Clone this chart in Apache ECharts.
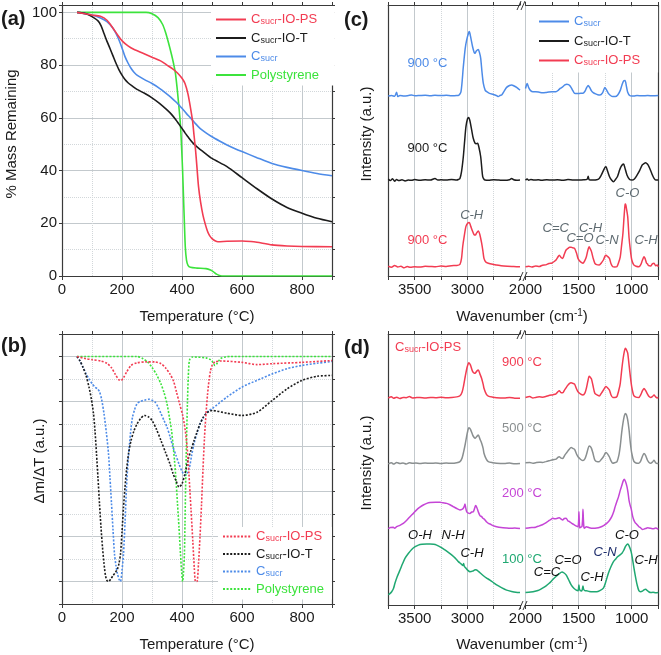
<!DOCTYPE html>
<html><head><meta charset="utf-8">
<script src="https://cdn.jsdelivr.net/npm/echarts@6/dist/echarts.min.js"></script>
<style>html,body{margin:0;padding:0;background:#fff}#c{width:661px;height:655px}</style>
</head><body><div id="c"></div>
<script>
// ---------------- DATA ----------------
// (a) TGA: [temperature °C, % mass remaining]
const aRed = [[50,100],[100,99],[128,98.5],[150,97],[170,94],[185,91.5],[202,89],[220,87.3],[239,86],[270,84.5],[300,83],[330,81.5],[350,80],[370,78.5],[385,77],[400,75],[410,73],[420,69],[428,64],[435,59],[440,53.5],[445,48],[450,41],[455,34],[462,28],[470,23],[478,19.5],[485,17],[492,15.3],[500,14.2],[510,13.4],[520,13],[550,13.2],[600,13.3],[630,13.1],[650,12.8],[700,11.8],[750,11.4],[800,11.2],[900,11.1]];
const aBlack = [[50,100],[80,99.5],[100,98.4],[120,96.8],[130,95],[140,92],[150,89],[160,86.3],[170,83.5],[180,80.7],[190,78.2],[200,76.2],[210,74.5],[220,73.3],[235,72],[250,70.8],[275,69.3],[300,67.6],[325,65.5],[350,63],[365,61.3],[380,59.2],[390,57.6],[400,56],[410,54.3],[420,52.8],[430,51.3],[440,50],[455,48.5],[470,47.2],[500,44.6],[550,41.5],[600,37.3],[650,33.1],[700,29.2],[750,26],[800,23.8],[850,21.9],[900,20.6]];
const aBlue = [[50,100],[100,99],[130,97.8],[150,96.5],[170,94],[180,92],[190,89.5],[200,86.5],[210,83.2],[220,80.8],[230,78.8],[240,77.3],[250,76.2],[275,74.5],[300,73],[325,71.2],[350,69],[365,67.6],[380,66],[390,64.8],[400,63.6],[415,61.6],[430,59.8],[445,57.8],[460,56],[480,54.3],[500,52.8],[525,51.2],[550,49.7],[575,48.4],[600,47.2],[650,44.9],[700,42.7],[750,41.2],[800,40],[850,38.9],[900,38]];
const aGreen = [[50,100],[280,100],[300,99.5],[320,98],[335,95.5],[345,92.5],[355,88.5],[365,84],[372,80.5],[378,77],[384,71],[389,65],[393,60],[396,55],[399,48],[402,40],[405,30],[408,20],[411,11],[415,6],[420,4],[428,3.3],[450,3],[480,2.8],[495,2.3],[505,1.6],[515,0.7],[525,0.2],[540,0],[900,0]];

// (b) DTG: [temperature °C, Δm/ΔT (a.u.)]
const bRed = [[50,0],[80,-0.05],[100,-0.07],[130,-0.1],[150,-0.15],[165,-0.25],[178,-0.4],[190,-0.52],[197,-0.53],[205,-0.47],[215,-0.35],[230,-0.2],[250,-0.14],[280,-0.12],[310,-0.12],[330,-0.16],[345,-0.25],[360,-0.39],[372,-0.55],[382,-0.8],[392,-1.05],[402,-1.3],[410,-1.6],[417,-2.0],[423,-2.6],[430,-3.4],[436,-4.1],[441,-4.7],[445,-5.0],[450,-5.0],[455,-4.6],[460,-4.0],[465,-3.3],[470,-2.5],[475,-1.8],[480,-1.27],[485,-0.85],[490,-0.53],[495,-0.32],[500,-0.2],[510,-0.12],[530,-0.1],[600,-0.13],[650,-0.18],[700,-0.16],[800,-0.13],[900,-0.09]];
const bBlack = [[50,0],[60,-0.1],[70,-0.24],[80,-0.42],[90,-0.68],[98,-0.95],[105,-1.27],[110,-1.65],[115,-2.16],[120,-2.7],[125,-3.27],[130,-3.8],[135,-4.24],[140,-4.6],[145,-4.87],[150,-4.98],[155,-5.0],[162,-4.95],[170,-4.87],[178,-4.8],[185,-4.72],[190,-4.6],[195,-4.39],[200,-3.9],[205,-3.35],[210,-2.9],[215,-2.53],[222,-2.15],[230,-1.87],[240,-1.65],[250,-1.5],[262,-1.38],[275,-1.31],[288,-1.34],[300,-1.42],[315,-1.62],[330,-1.87],[345,-2.13],[360,-2.39],[370,-2.6],[380,-2.76],[390,-2.9],[400,-2.83],[410,-2.6],[420,-2.3],[430,-2.08],[440,-1.87],[450,-1.68],[460,-1.5],[470,-1.36],[480,-1.27],[490,-1.22],[500,-1.2],[550,-1.26],[600,-1.31],[650,-1.24],[700,-0.98],[750,-0.72],[800,-0.53],[850,-0.44],[900,-0.42]];
const bBlue = [[50,0],[60,-0.1],[70,-0.24],[80,-0.38],[90,-0.5],[100,-0.6],[110,-0.68],[118,-0.72],[125,-0.78],[132,-0.95],[140,-1.27],[148,-1.7],[155,-2.16],[160,-2.7],[165,-3.27],[170,-3.85],[175,-4.39],[180,-4.65],[185,-4.83],[190,-4.95],[195,-5.0],[200,-4.75],[205,-4.39],[210,-3.7],[215,-2.9],[220,-2.35],[225,-1.94],[230,-1.6],[235,-1.35],[242,-1.18],[250,-1.05],[260,-1.0],[270,-0.98],[280,-0.96],[290,-0.95],[300,-0.97],[310,-1.01],[320,-1.12],[330,-1.27],[340,-1.42],[350,-1.57],[360,-1.78],[370,-2.01],[380,-2.2],[390,-2.39],[400,-2.55],[410,-2.64],[418,-2.58],[425,-2.46],[432,-2.2],[440,-1.94],[450,-1.7],[460,-1.5],[470,-1.37],[480,-1.27],[490,-1.2],[500,-1.16],[550,-0.9],[600,-0.68],[650,-0.53],[700,-0.39],[750,-0.27],[800,-0.2],[850,-0.15],[900,-0.11]];
const bGreen = [[50,0],[250,0],[270,-0.05],[285,-0.12],[300,-0.24],[315,-0.4],[330,-0.61],[340,-0.8],[350,-1.05],[358,-1.35],[365,-1.64],[370,-1.95],[375,-2.31],[380,-2.75],[385,-3.27],[390,-3.8],[395,-4.39],[399,-4.8],[402,-5.0],[405,-4.8],[408,-4.39],[410,-3.7],[412,-2.9],[415,-1.9],[418,-1.05],[421,-0.45],[425,-0.08],[435,-0.01],[480,-0.03],[495,-0.07],[503,-0.13],[510,-0.2],[515,-0.17],[522,-0.1],[530,-0.04],[545,-0.01],[560,0],[900,0]];

// (c) IR spectra at 900 °C: [wavenumber cm-1, intensity (a.u., offset)]; L = 3750-2500, R = 2000-750
const cBlueL = [[3750,66.4],[3720,66.6],[3690,66.3],[3671,67.8],[3660,66.2],[3639,66.6],[3600,66.4],[3560,66.6],[3530,66.8],[3497,66.5],[3450,66.6],[3400,66.7],[3350,66.5],[3307,66.7],[3250,66.6],[3200,66.7],[3150,66.5],[3100,66.6],[3085,66.6],[3060,68],[3038,77.2],[3020,84],[3006,87.1],[2990,89.5],[2981,90.2],[2970,88.5],[2950,84.6],[2935,82.5],[2927,82.2],[2915,83],[2896,83.6],[2885,82.5],[2873,80.3],[2860,75],[2848,71.1],[2830,68.5],[2816,68],[2790,67.4],[2753,67],[2720,66.5],[2706,66.2],[2690,66.6],[2674,66.8],[2650,68.2],[2627,69.6],[2600,70.3],[2579,70.5],[2555,70.1],[2532,69.6],[2510,68.9],[2500,68.6]];
const cBlueR = [[2000,69.2],[1990,70.6],[1984,71.0],[1970,69.5],[1952,68.4],[1930,68.0],[1904,68.0],[1870,67.8],[1840,67.6],[1809,67.7],[1780,67.9],[1750,68.0],[1713,68.0],[1690,68.6],[1670,69.3],[1650,69.8],[1630,70.5],[1611,70.8],[1595,70.6],[1580,70.1],[1560,68.8],[1538,67.4],[1510,67.3],[1480,67.4],[1459,67.4],[1440,68.2],[1427,69.3],[1411,70.3],[1395,69.5],[1379,68.3],[1363,67.7],[1340,67.2],[1320,66.9],[1299,66.8],[1275,67.6],[1252,69.6],[1235,68.5],[1220,67.4],[1200,66.6],[1178,66.2],[1156,66.2],[1130,66.9],[1108,68.5],[1092,70.5],[1076,72.0],[1063,72.1],[1050,70],[1038,67.8],[1020,66.6],[997,66.4],[981,66.4],[950,66.6],[900,66.5],[850,66.6],[800,66.5],[750,66.6]];
const cBlackL = [[3750,35.8],[3730,35.2],[3710,35.9],[3690,35.0],[3671,35.6],[3650,35.2],[3620,35.5],[3590,35.1],[3560,35.4],[3530,35.3],[3500,35.6],[3450,35.3],[3400,35.5],[3350,35.4],[3307,36.0],[3280,35.4],[3250,35.5],[3200,35.4],[3150,35.6],[3100,35.4],[3085,35.6],[3070,36.0],[3055,38.5],[3038,44.0],[3025,50],[3013,55.1],[2998,58.0],[2987,58.5],[2975,57.2],[2959,53.9],[2945,51],[2927,49.0],[2915,48.8],[2902,49.0],[2890,47.5],[2873,44.0],[2862,39.5],[2854,36.7],[2840,35.6],[2832,35.4],[2800,35.3],[2750,35.5],[2700,35.4],[2650,35.3],[2600,35.5],[2579,36.0],[2560,35.5],[2530,35.3],[2500,35.4]];
const cBlackR = [[2000,35.4],[1984,35.8],[1970,35.3],[1950,35.6],[1920,35.4],[1880,35.5],[1850,35.3],[1800,35.5],[1750,35.4],[1700,35.5],[1650,35.3],[1600,35.6],[1550,35.4],[1500,35.4],[1450,35.5],[1420,35.7],[1410,36.8],[1400,35.5],[1360,35.4],[1331,35.5],[1306,36.0],[1290,37.0],[1267,38.9],[1250,40.2],[1242,40.3],[1230,39.0],[1210,36.7],[1190,35.4],[1172,34.8],[1155,35.5],[1134,36.7],[1115,39.0],[1102,40.3],[1085,41.2],[1076,41.3],[1065,40.0],[1045,37.3],[1020,35.6],[997,35.4],[975,35.8],[949,37.3],[925,39.0],[901,41.0],[885,41.5],[869,41.8],[853,41.3],[837,40.3],[822,38.9],[806,37.3],[790,36.0],[774,35.4],[750,35.4]];
const cRedL = [[3750,3.6],[3720,3.2],[3690,3.9],[3660,3.3],[3630,3.6],[3600,3.0],[3570,3.5],[3540,3.2],[3500,3.4],[3450,3.3],[3400,3.6],[3350,3.5],[3300,3.4],[3250,3.7],[3200,3.5],[3150,3.8],[3100,3.9],[3070,4.3],[3055,6.5],[3044,10.8],[3030,14.5],[3013,18.3],[2995,19.6],[2981,19.7],[2968,18.4],[2949,16.4],[2935,15.2],[2924,15.1],[2910,16.0],[2896,16.6],[2882,15.4],[2864,12.1],[2852,9.2],[2842,6.5],[2825,5.2],[2801,4.7],[2760,4.3],[2722,4.1],[2680,3.8],[2620,3.6],[2560,3.5],[2500,3.4]];
const cRedR = [[2000,3.4],[1970,3.6],[1940,3.3],[1904,3.7],[1870,3.5],[1840,4.0],[1809,4.1],[1780,4.6],[1750,4.8],[1725,5.5],[1713,5.9],[1695,7.0],[1682,7.7],[1665,6.8],[1650,6.5],[1635,8.0],[1618,9.6],[1600,10.2],[1585,10.6],[1570,10.6],[1555,10.4],[1538,10.2],[1520,8.5],[1506,6.5],[1490,5.5],[1475,5.0],[1459,4.7],[1443,5.6],[1427,7.1],[1413,9.5],[1401,10.8],[1390,10.0],[1379,9.0],[1363,6.5],[1347,4.7],[1330,4.2],[1306,4.1],[1285,4.9],[1267,5.9],[1252,7.3],[1242,7.7],[1230,7.3],[1210,6.5],[1195,4.5],[1178,3.4],[1160,3.3],[1140,3.4],[1125,4.8],[1108,7.1],[1095,11.5],[1083,15.7],[1072,22],[1063,26.3],[1058,26.6],[1050,25],[1038,21.9],[1025,14],[1013,9.6],[1000,6],[981,4.1],[960,3.6],[933,3.4],[915,4.2],[900,5.8],[885,7.1],[875,6.5],[860,4.7],[853,4.5],[840,3.8],[822,3.7],[806,4.5],[790,4.7],[775,3.8],[760,4.1],[750,3.4]];

// (d) IR spectra of Csucr-IO-PS at 900/500/200/100 °C
const dRedL = [[3750,76.4],[3720,76.8],[3700,76.3],[3670,76.7],[3640,76.2],[3610,76.6],[3580,76.5],[3550,76.9],[3520,76.4],[3490,76.5],[3450,76.6],[3400,76.4],[3350,76.6],[3300,76.5],[3250,76.7],[3200,76.5],[3150,76.6],[3100,76.8],[3070,77.2],[3050,78.5],[3035,81],[3019,84.5],[3000,88.0],[2985,89.4],[2970,88.5],[2949,86.1],[2935,85.6],[2927,85.5],[2910,86.3],[2896,86.7],[2880,85.2],[2864,83.6],[2850,81.5],[2842,80.0],[2820,77.8],[2801,77.1],[2760,76.7],[2722,76.5],[2650,76.4],[2600,76.6],[2550,76.3],[2500,76.3]];
const dRedR = [[2000,76.6],[1960,76.9],[1930,76.4],[1904,76.6],[1870,76.8],[1840,76.7],[1809,76.9],[1780,77.3],[1740,77.6],[1713,77.9],[1695,78.7],[1682,79.1],[1665,78.3],[1650,78.3],[1630,79.5],[1611,80.6],[1590,81.6],[1570,82.0],[1555,81.8],[1538,81.5],[1520,79.8],[1506,78.7],[1480,77.8],[1459,77.5],[1440,78.3],[1427,80.0],[1412,82.8],[1401,84.4],[1390,84.0],[1379,83.4],[1365,81],[1347,78.1],[1320,77.4],[1306,77.1],[1285,78.2],[1267,79.3],[1250,80.4],[1242,80.6],[1225,80.0],[1210,79.3],[1195,77.5],[1178,76.6],[1160,76.6],[1140,76.9],[1120,79.5],[1108,81.8],[1095,86.5],[1083,90.4],[1070,93.5],[1060,94.7],[1050,94.2],[1038,92.9],[1025,88.5],[1013,84.3],[1000,80.5],[981,77.3],[960,76.7],[933,76.6],[915,77.6],[900,79.0],[885,79.9],[870,79.2],[853,77.9],[837,76.9],[822,76.6],[806,76.9],[790,77.5],[775,76.8],[760,76.4],[750,76.6]];
const dGrayL = [[3750,52.1],[3720,52.5],[3700,52.0],[3670,52.6],[3640,52.2],[3610,52.4],[3580,52.0],[3550,52.5],[3520,52.3],[3490,52.4],[3450,52.2],[3400,52.4],[3350,52.3],[3300,52.4],[3250,52.2],[3200,52.4],[3150,52.3],[3100,52.5],[3070,52.9],[3050,54.2],[3035,56.5],[3019,59.5],[3000,63.5],[2985,65.4],[2970,64.8],[2949,62.7],[2935,61.8],[2927,61.5],[2910,62.2],[2896,62.7],[2880,61.2],[2864,59.7],[2850,57.8],[2842,56.0],[2820,53.8],[2801,52.9],[2760,52.5],[2722,52.3],[2650,52.2],[2600,52.4],[2550,52.1],[2500,52.2]];
const dGrayR = [[2000,52.5],[1960,52.6],[1930,52.3],[1904,52.5],[1870,52.7],[1840,52.6],[1809,52.9],[1780,53.2],[1740,53.6],[1713,53.8],[1695,54.5],[1682,54.7],[1665,54.2],[1650,54.1],[1630,55.3],[1611,56.3],[1590,57.4],[1570,58.1],[1555,57.8],[1538,57.4],[1520,55.7],[1506,54.7],[1480,53.7],[1459,53.3],[1440,54.0],[1427,55.4],[1412,57.6],[1401,58.7],[1390,58.5],[1379,57.8],[1365,56],[1347,53.5],[1320,52.9],[1306,52.9],[1285,53.8],[1267,54.7],[1250,56.0],[1242,56.3],[1225,55.6],[1210,54.6],[1195,53.2],[1178,52.3],[1160,52.5],[1140,52.8],[1120,55.5],[1108,58.7],[1095,63.5],[1083,67.0],[1070,69.8],[1060,70.7],[1050,70.2],[1038,68.3],[1025,64.5],[1013,59.7],[1000,56.0],[981,53.1],[960,52.4],[933,52.3],[915,53.2],[900,54.8],[885,55.9],[870,55.2],[853,53.5],[837,52.6],[822,52.3],[806,52.7],[790,53.4],[775,52.5],[760,52.2],[750,52.3]];
const dMagL = [[3750,28.2],[3730,28.6],[3703,28.7],[3690,28.3],[3671,28.9],[3640,29.4],[3608,30.1],[3575,31.3],[3544,32.6],[3510,33.9],[3481,35.1],[3450,36.1],[3418,36.9],[3385,37.5],[3354,37.8],[3300,37.9],[3260,37.9],[3230,37.7],[3196,37.5],[3165,37.0],[3133,36.3],[3100,35.6],[3070,35.1],[3050,35.3],[3038,35.7],[3028,36.5],[3022,37.3],[3015,35.8],[3006,34.4],[2990,33.9],[2975,33.8],[2958,34.3],[2943,34.4],[2930,35.8],[2921,36.7],[2910,36.0],[2896,34.4],[2880,33.0],[2864,32.6],[2852,32.0],[2842,31.8],[2830,31.3],[2816,30.6],[2800,30.1],[2785,29.9],[2750,29.2],[2722,28.9],[2680,28.6],[2630,28.4],[2595,28.3],[2550,28.4],[2500,28.2]];
const dMagR = [[2000,28.3],[1960,28.5],[1930,28.6],[1904,28.7],[1870,29.2],[1841,29.6],[1809,30.3],[1777,31.2],[1760,31.6],[1745,32.0],[1725,31.8],[1700,32.0],[1682,32.2],[1665,31.7],[1650,31.4],[1635,31.9],[1618,32.0],[1600,31.0],[1586,30.8],[1560,30.0],[1538,29.5],[1520,29.1],[1506,28.9],[1500,31],[1497,34.4],[1494,31],[1490,28.5],[1484,28.4],[1475,28.8],[1468,29.0],[1462,32],[1459,35.3],[1455,31.5],[1450,28.6],[1446,28.3],[1427,28.9],[1400,28.5],[1363,28.3],[1330,28.4],[1299,28.7],[1265,29.3],[1236,30.1],[1210,31.2],[1188,32.6],[1170,34.4],[1156,36.3],[1140,38.2],[1124,40.0],[1108,42.3],[1092,44.3],[1080,45.8],[1070,46.4],[1058,45.5],[1045,43.7],[1035,41.5],[1025,38.5],[1013,36.5],[1005,35.5],[997,33.8],[990,32.5],[981,31.4],[968,30.4],[955,29.9],[933,28.9],[915,28.4],[901,27.9],[885,28.0],[869,28.2],[850,28.5],[822,28.3],[800,28.1],[775,28.4],[750,27.9]];
const dGreenL = [[3750,3.8],[3735,4.2],[3718,4.9],[3700,6.2],[3687,8.0],[3665,10.5],[3639,12.9],[3615,15.2],[3592,17.2],[3560,19.0],[3528,20.5],[3495,21.5],[3465,22.1],[3430,22.4],[3386,22.5],[3354,22.5],[3320,22.4],[3291,22.1],[3250,21.3],[3212,20.3],[3180,19.4],[3149,18.5],[3115,17.3],[3085,16.0],[3060,15.2],[3041,14.6],[3035,15.3],[3028,14.2],[3013,13.6],[2995,12.8],[2975,12.3],[2950,12.5],[2925,13.0],[2911,12.9],[2895,12.4],[2880,11.9],[2850,10.9],[2820,10.0],[2785,9.2],[2750,8.2],[2722,7.4],[2680,6.5],[2627,5.5],[2580,5.0],[2540,4.7],[2500,4.6]];
const dGreenR = [[2000,4.6],[1950,4.8],[1900,5.2],[1873,5.5],[1840,6.2],[1809,7.0],[1777,8.0],[1745,9.3],[1713,10.5],[1685,11.5],[1656,12.2],[1640,11.9],[1618,11.1],[1595,9.4],[1570,7.4],[1545,6.2],[1522,5.5],[1505,5.3],[1500,6.5],[1497,7.4],[1493,6.0],[1484,5.3],[1470,5.2],[1463,6.2],[1459,7.0],[1453,5.8],[1440,5.3],[1427,5.3],[1400,5.0],[1365,4.9],[1331,4.9],[1300,5.3],[1267,6.2],[1245,8.5],[1220,11.7],[1195,14.2],[1172,16.0],[1150,17.0],[1134,17.8],[1110,18.5],[1092,19.1],[1075,20.2],[1060,21.5],[1045,22.3],[1038,22.5],[1025,21.8],[1006,19.7],[995,17.5],[981,14.1],[965,10.5],[949,7.4],[933,5.3],[917,4.9],[900,5.1],[885,5.6],[869,5.8],[853,5.3],[837,4.8],[822,4.6],[800,4.7],[775,4.5],[750,4.6]];

// tick labels
const tempTicks = [0, 200, 400, 600, 800];
const massTicks = [0, 20, 40, 60, 80, 100];
const wnTicksL = [3500, 3000];
const wnTicksR = [2000, 1500, 1000];

// ---------------- STYLE ----------------
const FONT = '"Liberation Sans", Arial, Helvetica, sans-serif';
const C_RED = '#F23C52', C_BLACK = '#1c1c1c', C_BLUE = '#4D8BE8', C_GREEN = '#3CE33C';
const C_GRAY = '#8A8F90', C_MAG = '#C545D6', C_TEAL = '#20A872';
const MAJ = '#C3C9CD', MIN = '#D2D7DA', AXIS = '#3a3a3a', TXT = '#1a1a1a', ANN = '#5E6A70';
const T = 'transparent';

function hasTick(list, v) { return list.some(t => Math.abs(t - v) < 1e-6); }

function xAx(grid, pos, min, max, interval, inverse, labels, colors, dotted) {
  return {
    type: 'value', gridIndex: grid, position: pos, min, max, interval, inverse: !!inverse,
    axisLine: { show: true, onZero: false, lineStyle: { color: AXIS, width: 1.2 } },
    axisTick: { show: true, inside: false, length: pos === 'bottom' ? 4 : 3, lineStyle: { color: AXIS, width: 1 } },
    axisLabel: labels ? { show: true, margin: 6, fontSize: 15, color: TXT, fontFamily: FONT,
      showMinLabel: true, showMaxLabel: true, formatter: v => hasTick(labels, v) ? String(v) : '' } : { show: false },
    splitLine: { show: !!colors, lineStyle: { color: colors || MAJ, width: 1, type: dotted ? 'dotted' : 'solid' } },
    minorTick: { show: false }, minorSplitLine: { show: false }
  };
}
function yAx(grid, pos, min, max, interval, labels, colors, dotted, ticks) {
  return {
    type: 'value', gridIndex: grid, position: pos, min, max, interval,
    axisLine: { show: true, onZero: false, lineStyle: { color: AXIS, width: 1.2 } },
    axisTick: { show: !!ticks, inside: false, length: 3, lineStyle: { color: AXIS, width: 1 } },
    axisLabel: labels ? { show: true, margin: 5, fontSize: 15, color: TXT, fontFamily: FONT,
      showMinLabel: true, showMaxLabel: true, formatter: v => hasTick(labels, v) ? String(v) : '' } : { show: false },
    splitLine: { show: !!colors, lineStyle: { color: colors || MAJ, width: 1, type: dotted ? 'dotted' : 'solid' } },
    minorTick: { show: false }, minorSplitLine: { show: false }
  };
}
function ln(name, data, xi, yi, color, dotted, width) {
  return {
    type: 'line', name, data, xAxisIndex: xi, yAxisIndex: yi, symbol: 'none', showSymbol: false,
    smooth: 0.25, silent: true, animation: false, clip: true,
    lineStyle: { color, width: width || 1.6, type: dotted ? [2, 1.6] : 'solid' },
    itemStyle: { color }
  };
}

const rich = {};
[['r', C_RED], ['k', C_BLACK], ['b', C_BLUE], ['g', C_GREEN]].forEach(([k, c]) => {
  rich[k] = { color: c, fontSize: 13, lineHeight: 14, fontFamily: FONT };
  rich[k + 's'] = { color: c, fontSize: 9, lineHeight: 7, verticalAlign: 'bottom', fontFamily: FONT };
});
const legendText = {
  ps: '{X|C}{Xs|sucr}{X|-IO-PS}', t: '{X|C}{Xs|sucr}{X|-IO-T}', c: '{X|C}{Xs|sucr}', poly: '{X|Polystyrene}'
};
const legendCol = { ps: 'r', t: 'k', c: 'b', poly: 'g' };
function legFmt(name) { const k = name.split(':')[1]; return legendText[k].replace(/X/g, legendCol[k]); }
function leg(names, left, top, padding, gap, w) {
  return {
    data: names, orient: 'vertical', left, top, padding, itemGap: gap, itemWidth: w, itemHeight: 14,
    backgroundColor: '#fff', formatter: legFmt, selectedMode: false,
    textStyle: { rich, fontFamily: FONT, fontSize: 13 },
    itemStyle: { opacity: 0 }, lineStyle: { inherit: true }
  };
}

function txt(x, y, text, opt) {
  opt = opt || {};
  return {
    type: 'text', x, y, rotation: opt.rot || 0, z: 10,
    style: Object.assign({ text, align: opt.align || 'center', verticalAlign: 'middle', fontFamily: FONT,
      fontSize: opt.size || 15, fontWeight: opt.bold ? 'bold' : 'normal', fontStyle: opt.italic ? 'italic' : 'normal',
      fill: opt.color || TXT }, opt.rich ? { rich: opt.rich } : {})
  };
}
const richT = {
  t: { fontSize: 15, fontFamily: FONT, fill: TXT, color: TXT, lineHeight: 18 },
  sup: { fontSize: 10, fontFamily: FONT, fill: TXT, color: TXT, lineHeight: 10, verticalAlign: 'top' },
  r: { fontSize: 13, fontFamily: FONT, color: C_RED, fill: C_RED, lineHeight: 14 },
  rs: { fontSize: 9, fontFamily: FONT, color: C_RED, fill: C_RED, lineHeight: 7, verticalAlign: 'bottom' }
};
function brk(x, y) {
  return [
    { type: 'line', z: 10, shape: { x1: x, y1: y + 5, x2: x + 4, y2: y - 4 }, style: { stroke: AXIS, lineWidth: 1 } },
    { type: 'line', z: 10, shape: { x1: x + 4, y1: y + 5, x2: x + 8, y2: y - 4 }, style: { stroke: AXIS, lineWidth: 1 } }
  ];
}

const Lmaj = [T, T, MAJ, T, MAJ, T], Lmin = [T, MIN, T, MIN, T, T];
const Rmaj = [T, MAJ, T, MAJ, T, MAJ], Rmin = [T, T, MIN, T, MIN, T];

const option = {
  animation: false,
  backgroundColor: '#fff',
  textStyle: { fontFamily: FONT },
  grid: [
    { left: 62, top: 5, width: 270, height: 271, outerBoundsMode: 'none', containLabel: false },
    { left: 62, top: 334, width: 270, height: 270, outerBoundsMode: 'none', containLabel: false },
    { left: 388.3, top: 5, width: 131.7, height: 271, outerBoundsMode: 'none', containLabel: false },
    { left: 525.5, top: 5, width: 132.8, height: 271, outerBoundsMode: 'none', containLabel: false },
    { left: 388.3, top: 334, width: 131.7, height: 271, outerBoundsMode: 'none', containLabel: false },
    { left: 525.5, top: 334, width: 132.8, height: 271, outerBoundsMode: 'none', containLabel: false }
  ],
  xAxis: [
    xAx(0, 'bottom', 0, 900, 200, false, tempTicks, MAJ, false),
    xAx(0, 'top', 0, 900, 100, false, null, [T, MIN], true),
    xAx(1, 'bottom', 0, 900, 200, false, tempTicks, MAJ, false),
    xAx(1, 'top', 0, 900, 100, false, null, [T, MIN], true),
    xAx(2, 'bottom', 2500, 3750, 250, true, wnTicksL, Lmaj, false),
    xAx(2, 'top', 2500, 3750, 250, true, null, Lmin, true),
    xAx(3, 'bottom', 750, 2000, 250, true, wnTicksR, Rmaj, false),
    xAx(3, 'top', 750, 2000, 250, true, null, Rmin, true),
    xAx(4, 'bottom', 2500, 3750, 250, true, wnTicksL, Lmaj, false),
    xAx(4, 'top', 2500, 3750, 250, true, null, Lmin, true),
    xAx(5, 'bottom', 750, 2000, 250, true, wnTicksR, Rmaj, false),
    xAx(5, 'top', 750, 2000, 250, true, null, Rmin, true)
  ],
  yAxis: [
    yAx(0, 'left', 0, 102.8, 20, massTicks, MAJ, false, true),
    yAx(0, 'right', 0, 102.8, 10, null, [T, MIN], true, true),
    yAx(1, 'left', -5.5, 0.5, 0.5, null, [T, MAJ], false, true),
    yAx(1, 'right', -5.5, 0.5, 0.5, null, [MIN, T], true, true),
    yAx(2, 'left', 0, 100, 50, null, null, false, false),
    yAx(3, 'right', 0, 100, 50, null, null, false, false),
    yAx(4, 'left', 0, 100, 50, null, null, false, false),
    yAx(5, 'right', 0, 100, 50, null, null, false, false)
  ],
  legend: [
    leg(['a:ps', 'a:t', 'a:c', 'a:poly'], 211, 6, [7, 16, 4, 4], 5, 30),
    leg(['b:ps', 'b:t', 'b:c', 'b:poly'], 218, 527, [3, 8, 4, 4], 4, 28),
    leg(['c:c', 'c:t', 'c:ps'], 534, 7, [8, 18, 5, 4], 6, 30)
  ],
  series: [
    ln('a:poly', aGreen, 0, 0, C_GREEN),
    ln('a:c', aBlue, 0, 0, C_BLUE),
    ln('a:t', aBlack, 0, 0, C_BLACK),
    ln('a:ps', aRed, 0, 0, C_RED),
    ln('b:poly', bGreen, 2, 2, C_GREEN, true),
    ln('b:c', bBlue, 2, 2, C_BLUE, true),
    ln('b:t', bBlack, 2, 2, C_BLACK, true),
    ln('b:ps', bRed, 2, 2, C_RED, true),
    ln('c:c', cBlueL, 4, 4, C_BLUE, false, 1.5),
    ln('c:cR', cBlueR, 6, 5, C_BLUE, false, 1.5),
    ln('c:t', cBlackL, 4, 4, C_BLACK, false, 1.5),
    ln('c:tR', cBlackR, 6, 5, C_BLACK, false, 1.5),
    ln('c:ps', cRedL, 4, 4, C_RED, false, 1.5),
    ln('c:psR', cRedR, 6, 5, C_RED, false, 1.5),
    ln('d:900L', dRedL, 8, 6, C_RED, false, 1.5),
    ln('d:900R', dRedR, 10, 7, C_RED, false, 1.5),
    ln('d:500L', dGrayL, 8, 6, C_GRAY, false, 1.5),
    ln('d:500R', dGrayR, 10, 7, C_GRAY, false, 1.5),
    ln('d:200L', dMagL, 8, 6, C_MAG, false, 1.5),
    ln('d:200R', dMagR, 10, 7, C_MAG, false, 1.5),
    ln('d:100L', dGreenL, 8, 6, C_TEAL, false, 1.5),
    ln('d:100R', dGreenR, 10, 7, C_TEAL, false, 1.5)
  ],
  graphic: [
    txt(1, 19, '(a)', { align: 'left', size: 20, bold: true }),
    txt(1, 346, '(b)', { align: 'left', size: 20, bold: true }),
    txt(344, 20, '(c)', { align: 'left', size: 20, bold: true }),
    txt(344, 348, '(d)', { align: 'left', size: 20, bold: true }),
    txt(197, 317, 'Temperature (°C)'),
    txt(197, 645, 'Temperature (°C)'),
    txt(12, 134, '% Mass Remaining', { rot: Math.PI / 2 }),
    txt(40, 461, 'Δm/ΔT (a.u.)', { rot: Math.PI / 2 }),
    txt(367, 134, 'Intensity (a.u.)', { rot: Math.PI / 2 }),
    txt(367, 463, 'Intensity (a.u.)', { rot: Math.PI / 2 }),
    txt(522, 317, '{t|Wavenumber (cm}{sup|-1}{t|)}', { rich: richT }),
    txt(522, 645, '{t|Wavenumber (cm}{sup|-1}{t|)}', { rich: richT }),
    // (c) labels
    txt(427.5, 63, '900 °C', { size: 13, color: C_BLUE }),
    txt(427.5, 148, '900 °C', { size: 13, color: C_BLACK }),
    txt(427.5, 240, '900 °C', { size: 13, color: C_RED }),
    txt(471.7, 215, 'C-H', { size: 13, italic: true, color: ANN }),
    txt(555.8, 228, 'C=C', { size: 13, italic: true, color: ANN }),
    txt(580, 238.5, 'C=O', { size: 13, italic: true, color: ANN }),
    txt(590.5, 228, 'C-H', { size: 13, italic: true, color: ANN }),
    txt(607, 240, 'C-N', { size: 13, italic: true, color: ANN }),
    txt(627.5, 193.5, 'C-O', { size: 13, italic: true, color: ANN }),
    txt(646, 240, 'C-H', { size: 13, italic: true, color: ANN }),
    // (d) labels
    txt(395, 347, '{r|C}{rs|sucr}{r|-IO-PS}', { align: 'left', rich: richT }),
    txt(522, 362, '900 °C', { size: 13, color: C_RED }),
    txt(522, 428, '500 °C', { size: 13, color: C_GRAY }),
    txt(522, 493, '200 °C', { size: 13, color: C_MAG }),
    txt(522, 559, '100 °C', { size: 13, color: C_TEAL }),
    txt(420, 535, 'O-H', { size: 13, italic: true, color: '#111' }),
    txt(453, 535, 'N-H', { size: 13, italic: true, color: '#111' }),
    txt(472, 553, 'C-H', { size: 13, italic: true, color: '#111' }),
    txt(547, 572, 'C=C', { size: 13, italic: true, color: '#111' }),
    txt(568, 560, 'C=O', { size: 13, italic: true, color: '#111' }),
    txt(592, 577, 'C-H', { size: 13, italic: true, color: '#111' }),
    txt(605, 552, 'C-N', { size: 13, italic: true, color: '#1d2c6b' }),
    txt(627, 535, 'C-O', { size: 13, italic: true, color: '#111' }),
    txt(646, 560, 'C-H', { size: 13, italic: true, color: '#111' })
  ].concat(brk(517, 5), brk(519, 276), brk(517, 334), brk(519, 605))
};

const chart = echarts.init(document.getElementById('c'), null, { renderer: 'canvas' });
chart.setOption(option);
</script>
</body></html>
